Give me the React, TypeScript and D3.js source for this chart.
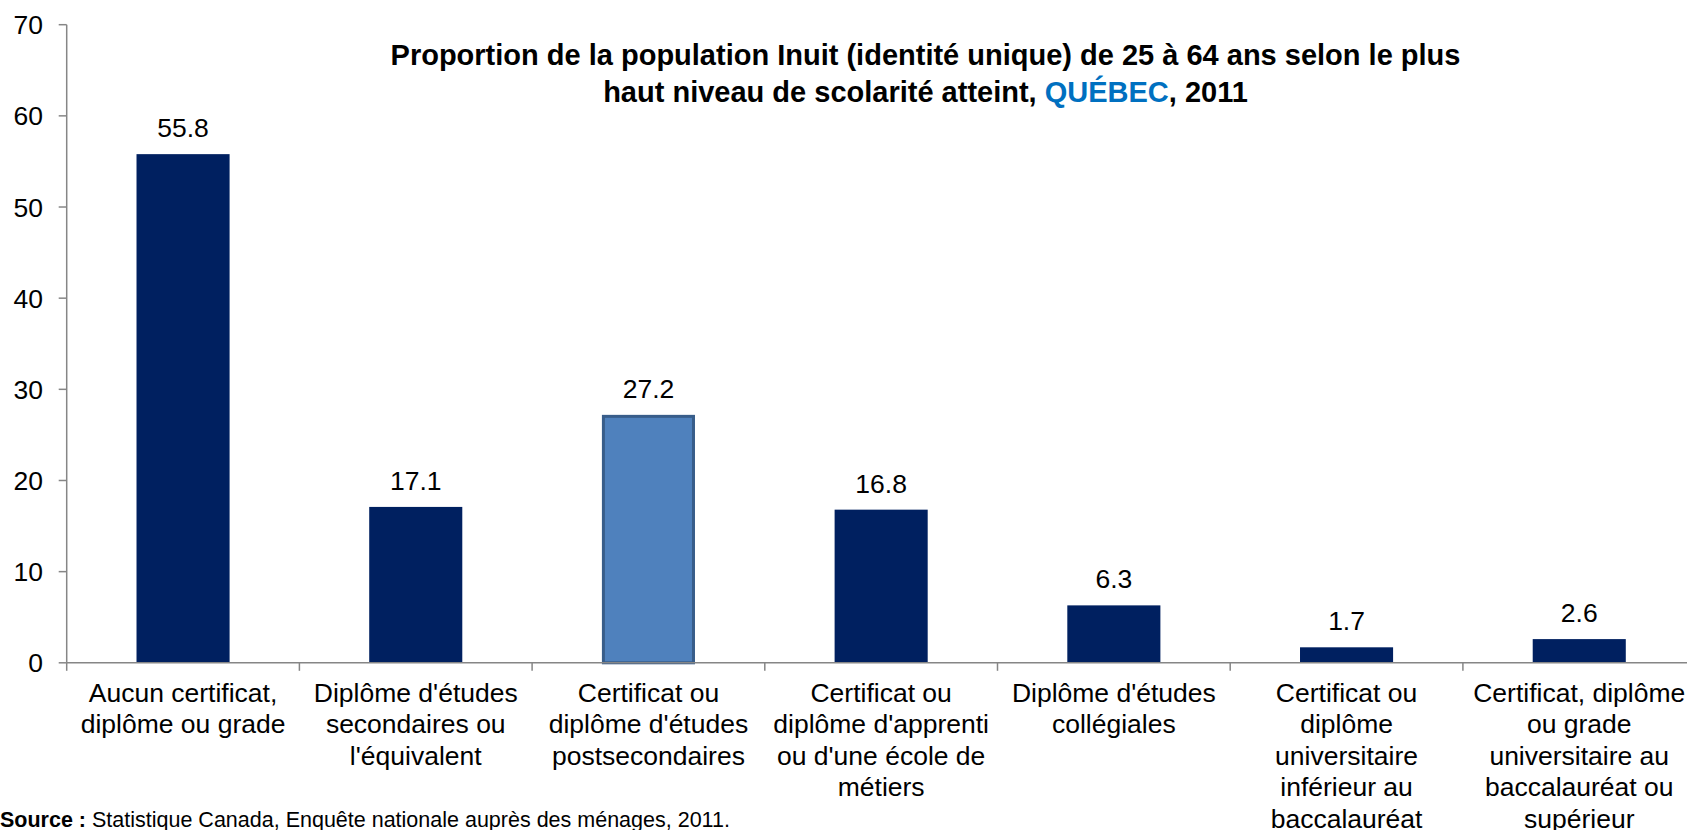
import React from "react";
import * as d3 from "d3";

const categories: string[][] = [
  ["Aucun certificat,", "diplôme ou grade"],
  ["Diplôme d'études", "secondaires ou", "l'équivalent"],
  ["Certificat ou", "diplôme d'études", "postsecondaires"],
  ["Certificat ou", "diplôme d'apprenti", "ou d'une école de", "métiers"],
  ["Diplôme d'études", "collégiales"],
  ["Certificat ou", "diplôme", "universitaire", "inférieur au", "baccalauréat"],
  ["Certificat, diplôme", "ou grade", "universitaire au", "baccalauréat ou", "supérieur"],
];
const values: number[] = [55.8, 17.1, 27.2, 16.8, 6.3, 1.7, 2.6];
const highlighted: number[] = [2];
const yTicks: number[] = [0, 10, 20, 30, 40, 50, 60, 70];

const W = 1687;
const H = 830;
const FONT = "'Liberation Sans', Arial, sans-serif";

export default function App() {
  const x0 = 66.7;
  const x1 = 1695.6;
  const y0 = 662.8;
  const y1 = 24.7;
  const idx = categories.map((_, i) => i);
  const x = d3.scaleBand<number>().domain(idx).range([x0, x1]).padding(0);
  const y = d3.scaleLinear().domain([0, 70]).range([y0, y1]);
  const step = x.step();
  const barW = step * 0.4;
  const axisColor = "#868686";

  return (
    <svg
      width={W}
      height={H}
      style={{ position: "absolute", left: 0, top: 0, background: "#fff" }}
      fontFamily={FONT}
    >
      {/* title */}
      <text x={925.5} y={65} textAnchor="middle" fontSize={29} fontWeight="bold" fill="#000">
        Proportion de la population Inuit (identité unique) de 25 à 64 ans selon le plus
      </text>
      <text x={925.5} y={102} textAnchor="middle" fontSize={29} fontWeight="bold" fill="#000">
        haut niveau de scolarité atteint, <tspan fill="#0070C0">QUÉBEC</tspan>, 2011
      </text>

      {/* y axis */}
      <line x1={x0} x2={x0} y1={y1} y2={y0} stroke={axisColor} strokeWidth={1.5} />
      {yTicks.map((t) => (
        <g key={t}>
          <line x1={x0 - 8} x2={x0} y1={y(t)} y2={y(t)} stroke={axisColor} strokeWidth={1.5} />
          <text x={43} y={y(t)} dy="0.36em" textAnchor="end" fontSize={26.5} fill="#000">
            {t}
          </text>
        </g>
      ))}

      {/* bars */}
      {values.map((v, i) => {
        const bx = (x(i) as number) + (step - barW) / 2;
        const hl = highlighted.includes(i);
        return (
          <g key={i}>
            <rect
              x={hl ? bx + 1.5 : bx}
              y={hl ? y(v) + 1.5 : y(v)}
              width={hl ? barW - 3 : barW}
              height={hl ? y0 - y(v) - 1.5 : y0 - y(v)}
              fill={hl ? "#4F81BD" : "#002060"}
              stroke={hl ? "#385D8A" : "none"}
              strokeWidth={hl ? 3 : 0}
            />
            <text
              x={bx + barW / 2}
              y={y(v) - 17}
              textAnchor="middle"
              fontSize={26.5}
              fill="#000"
            >
              {v.toFixed(1)}
            </text>
          </g>
        );
      })}

      {/* x axis */}
      <line x1={x0} x2={x1} y1={y0} y2={y0} stroke={axisColor} strokeWidth={1.5} />
      {idx.concat([idx.length]).map((i) => {
        const tx = x0 + i * step;
        return <line key={i} x1={tx} x2={tx} y1={y0} y2={y0 + 8} stroke={axisColor} strokeWidth={1.5} />;
      })}
      {categories.map((lines, i) => (
        <text key={i} textAnchor="middle" fontSize={26.5} fill="#000">
          {lines.map((l, j) => (
            <tspan key={j} x={(x(i) as number) + step / 2} y={702 + j * 31.4}>
              {l}
            </tspan>
          ))}
        </text>
      ))}

      {/* source */}
      <text x={0} y={827} fontSize={21.5} fill="#000">
        <tspan fontWeight="bold">Source :</tspan> Statistique Canada, Enquête nationale auprès des ménages, 2011.
      </text>
    </svg>
  );
}
